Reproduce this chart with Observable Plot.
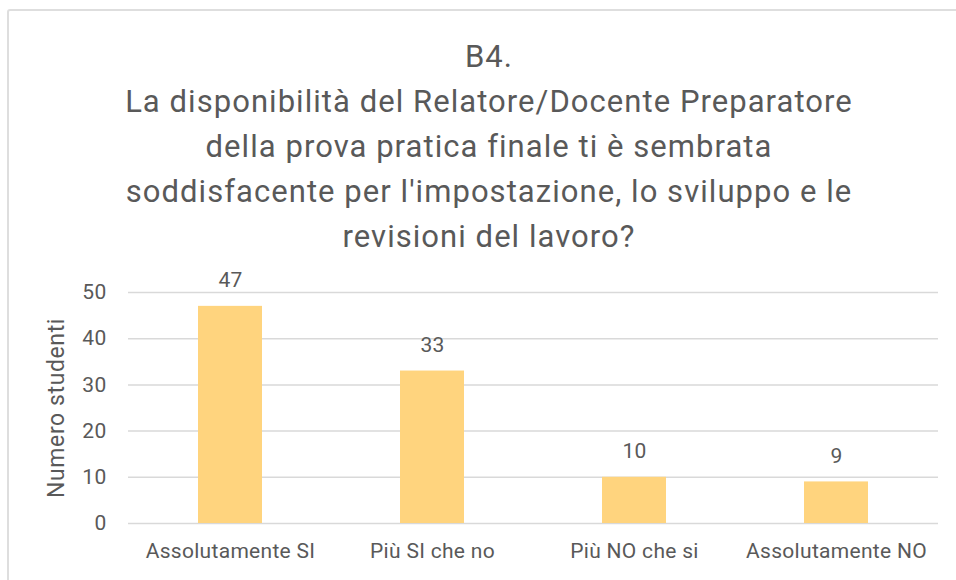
<!DOCTYPE html>
<html>
<head>
<meta charset="utf-8">
<script src="https://cdn.jsdelivr.net/npm/d3@7"></script>
<script src="https://cdn.jsdelivr.net/npm/@observablehq/plot@0.6"></script>
<style>
  html, body { margin: 0; padding: 0; background: #fff; width: 956px; height: 580px; overflow: hidden; }
  #frame { position: absolute; left: 7px; top: 9px; width: 1000px; height: 620px; border: 2px solid #dedede; border-radius: 3px; box-sizing: border-box; }
  #title { position: absolute; left: 0; top: 34px; width: 978px; text-align: center; font-family: Roboto, sans-serif; font-size: 31px; letter-spacing: 1.05px; line-height: 45px; color: #595959; }
  #chart { position: absolute; left: 0; top: 260px; }
  #chart svg text { letter-spacing: 0.3px; }
</style>
</head>
<body>
<div id="frame"></div>
<div id="title"></div>
<div id="chart"></div>
<script>
const titleLines = [
  "B4.",
  "La disponibilità del Relatore/Docente Preparatore",
  "della prova pratica finale ti è sembrata",
  "soddisfacente per l'impostazione, lo sviluppo e le",
  "revisioni del lavoro?"
];
const categories = ["Assolutamente SI", "Più SI che no", "Più NO che si", "Assolutamente NO"];
const values = [47, 33, 10, 9];
const yTicks = [0, 10, 20, 30, 40, 50];
const yLabel = "Numero studenti";

document.getElementById("title").innerHTML = titleLines.map(t => t.replace(/&/g,"&amp;").replace(/</g,"&lt;")).join("<br>");

const data = categories.map((c, i) => ({category: c, value: values[i]}));
const textColor = "#595959";

const chart = Plot.plot({
  width: 956,
  height: 320,
  marginLeft: 128,
  marginRight: 18,
  marginTop: 32,
  marginBottom: 57,
  style: { fontFamily: "Roboto, sans-serif", color: textColor, background: "transparent" },
  x: { domain: categories, paddingInner: 0.684, paddingOuter: 0.342, label: null },
  y: { domain: [0, 50], label: null },
  marks: [
    Plot.gridY(yTicks, { stroke: "#d9d9d9", strokeOpacity: 1, strokeWidth: 1.5 }),
    Plot.barY(data, { x: "category", y: "value", fill: "#ffd47e" }),
    Plot.text(data, { x: "category", y: "value", text: d => String(d.value), dy: -26, fontSize: 21, fill: textColor }),
    Plot.axisY(yTicks, { tickSize: 0, tickPadding: 22, fontSize: 21, label: yLabel, labelAnchor: "center", labelArrow: "none", labelOffset: 81 }),
    Plot.axisX({ tickSize: 0, tickPadding: 20, fontSize: 21, label: null })
  ]
});
document.getElementById("chart").appendChild(chart);
chart.querySelectorAll("text").forEach(t => {
  if (t.textContent === yLabel) { t.setAttribute("font-size", 23); t.style.letterSpacing = "0.6px"; }
});
</script>
</body>
</html>
